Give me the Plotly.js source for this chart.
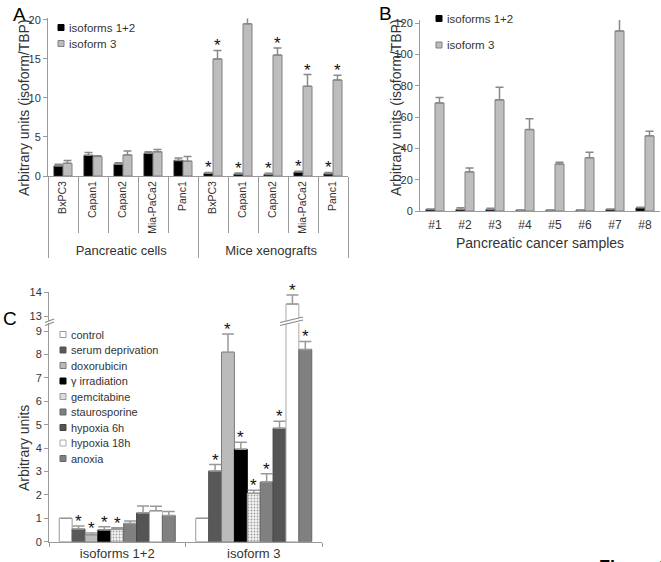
<!DOCTYPE html>
<html><head><meta charset="utf-8">
<script src="https://cdn.plot.ly/plotly-3.0.1.min.js"></script>
<style>html,body{margin:0;padding:0;background:#fff}#chart{width:661px;height:562px}</style>
</head><body><div id="chart"></div>
<script>
// ---------- Panel A data ----------
const groupsA = ['Pancreatic cells','Pancreatic cells','Pancreatic cells','Pancreatic cells','Pancreatic cells',
                 'Mice xenografts','Mice xenografts','Mice xenografts','Mice xenografts','Mice xenografts'];
const cellLinesA = ['BxPC3','Capan1','Capan2','Mia-PaCa2','Panc1','BxPC3','Capan1','Capan2','Mia-PaCa2','Panc1'];
const iso12A = [1.28, 2.65, 1.5, 2.9, 2.0, 0.35, 0.25, 0.2, 0.5, 0.3];
const iso12A_err = [0.22, 0.35, 0.2, 0.2, 0.3, 0.1, 0.12, 0.15, 0.1, 0.15];
const iso3A = [1.62, 2.5, 2.7, 3.1, 1.9, 15.0, 19.5, 15.5, 11.5, 12.3];
const iso3A_err = [0.38, 0.1, 0.5, 0.3, 0.6, 1.1, 1.4, 0.9, 1.5, 0.6];
const starA12 = [0,0,0,0,0,1,1,1,1,1];
const starA3  = [0,0,0,0,0,1,1,1,1,1];

// ---------- Panel B data ----------
const samplesB = ['#1','#2','#3','#4','#5','#6','#7','#8'];
const iso12B = [1.0, 1.0, 1.0, 0.5, 0.5, 0.5, 1.0, 2.0];
const iso12B_err = [0.3, 1.0, 0.8, 0.2, 0.2, 0.2, 0.3, 0.4];
const iso3B = [69, 25, 71, 52, 30, 34, 115, 48];
const iso3B_err = [3.5, 2.5, 8, 7, 1.2, 3.5, 10, 3];

// ---------- Panel C data ----------
const groupsC = ['isoforms 1+2', 'isoform 3'];
const treatmentsC = ['control','serum deprivation','doxorubicin','\u03b3 irradiation','gemcitabine',
                     'staurosporine','hypoxia 6h','hypoxia 18h','anoxia'];
const iso12C = [1.0, 0.54, 0.3, 0.5, 0.53, 0.78, 1.23, 1.32, 1.12];
const iso12C_err = [0, 0.13, 0.07, 0.14, 0.07, 0.1, 0.3, 0.2, 0.17];
const iso3C = [1.0, 3.02, 8.1, 3.95, 2.07, 2.55, 4.85, 13.5, 8.22];
const iso3C_err = [0, 0.28, 0.78, 0.3, 0.13, 0.35, 0.3, 0.38, 0.34];
const starC12 = [0,1,1,1,1,0,0,0,0];
const starC3  = [0,1,1,1,1,1,1,1,1];

// ---------- styles ----------
const FONT = 'Liberation Sans, Arial, sans-serif';
const W = 661, H = 562;
const fx = p => p / W, fy = p => 1 - p / H;
const AX = '#9a9a9a', TXT = '#333';
const colorsC = ['#ffffff','#585858','#bbbbbb','#000000','#eeeeee','#808080','#555555','#ffffff','#808080'];
const linesC  = ['#999999','#555555','#7a7a7a','#000000','#999999','#666666','#444444','#aaaaaa','#666666'];
const zeros = n => new Array(n).fill(0);
const C_BARGAP = 0.15;
const LOWER_TOP = 9.35;
// group labels of panel A drawn a bit larger than the cell-line labels
const groupLabelA = g => `<span style="font-size:13px">${g}</span>`;

const traces = [];
// Panel A
const xA = [groupsA.map(groupLabelA), cellLinesA];
traces.push({type:'bar', name:'isoforms 1+2', x:xA, y:iso12A, xaxis:'x', yaxis:'y',
  width:0.3, offset:-0.3, marker:{color:'#000', line:{color:'#222', width:1}},
  error_y:{type:'data', array:iso12A_err, symmetric:false, arrayminus:zeros(iso12A.length), color:'#888', thickness:1.5, width:4}});
traces.push({type:'bar', name:'isoform 3', x:xA, y:iso3A, xaxis:'x', yaxis:'y',
  width:0.3, offset:0, marker:{color:'#bdbdbd', line:{color:'#808080', width:1}},
  error_y:{type:'data', array:iso3A_err, symmetric:false, arrayminus:zeros(iso3A.length), color:'#888', thickness:1.5, width:4}});
// Panel B
traces.push({type:'bar', name:'isoforms 1+2', x:samplesB, y:iso12B, xaxis:'x2', yaxis:'y2',
  width:0.3, offset:-0.3, marker:{color:'#000', line:{color:'#222', width:1}},
  error_y:{type:'data', array:iso12B_err, symmetric:false, arrayminus:zeros(iso12B.length), color:'#888', thickness:1.5, width:4}});
traces.push({type:'bar', name:'isoform 3', x:samplesB, y:iso3B, xaxis:'x2', yaxis:'y2',
  width:0.3, offset:0, marker:{color:'#bdbdbd', line:{color:'#808080', width:1}},
  error_y:{type:'data', array:iso3B_err, symmetric:false, arrayminus:zeros(iso3B.length), color:'#888', thickness:1.5, width:4}});
// Panel C (lower and upper broken-axis parts)
['y3','y4'].forEach(ya => {
  treatmentsC.forEach((t, i) => {
    const marker = {color: colorsC[i], line:{color: linesC[i], width:1}};
    if (t === 'gemcitabine') marker.pattern = {shape:'.', fgcolor:'#a0a0a0', bgcolor:'#f4f4f4', size:3, solidity:0.3};
    traces.push({type:'bar', name:t, x:groupsC, y:[iso12C[i], iso3C[i]], xaxis:'x3', yaxis:ya,
      marker: marker,
      error_y:{type:'data', array:[iso12C_err[i], iso3C_err[i]], symmetric:false, arrayminus:[0,0],
               color:'#999', thickness:1.5, width:6}});
  });
});

// ---------- annotations ----------
const ann = [];
const starFont = {family:FONT, size:17, color:'#111'};
function star(xref, yref, x, y) {
  ann.push({xref, yref, x, y, text:'*', showarrow:false, xanchor:'center', yanchor:'bottom', yshift:-7, font:starFont});
}
cellLinesA.forEach((c, i) => {
  if (starA12[i]) star('x', 'y', i - 0.15, iso12A[i] + iso12A_err[i]);
  if (starA3[i])  star('x', 'y', i + 0.15, iso3A[i] + iso3A_err[i]);
});
const nC = treatmentsC.length, slot = (1 - C_BARGAP) / nC;
treatmentsC.forEach((t, i) => {
  const off = -(1 - C_BARGAP) / 2 + (i + 0.5) * slot;
  if (starC12[i]) { const top = iso12C[i] + iso12C_err[i]; star('x3', top > LOWER_TOP ? 'y4' : 'y3', 0 + off, top); }
  if (starC3[i])  { const top = iso3C[i] + iso3C_err[i];   star('x3', top > LOWER_TOP ? 'y4' : 'y3', 1 + off, top); }
});

function txt(x, y, text, size, extra) {
  ann.push(Object.assign({xref:'paper', yref:'paper', x:fx(x), y:fy(y), text, showarrow:false,
    xanchor:'center', yanchor:'middle', font:{family:FONT, size, color:TXT}}, extra || {}));
}
// panel letters
const letterFont = {family:FONT, size:19, color:'#000'};
txt(19, 2, 'A', 19, {yanchor:'top', font:letterFont});
txt(385, 0.5, 'B', 19, {yanchor:'top', font:letterFont});
txt(10, 318, 'C', 19, {font:letterFont});
// axis titles
txt(24, 108, 'Arbitrary units (isoform/TBP)', 14, {textangle:-90});
txt(396, 108, 'Arbitrary units (isoform/TBP)', 14, {textangle:-90});
txt(24, 448, 'Arbitrary units', 14, {textangle:-90});
txt(540, 243, 'Pancreatic cancer samples', 14);
// Figure label (cut at the bottom edge)
ann.push({xref:'paper', yref:'paper', x:fx(597), y:fy(555), xanchor:'left', yanchor:'top', text:'<b>Figure 3</b>',
  showarrow:false, font:{family:FONT, size:18, color:'#000'}});

// legends (swatch shapes + labels)
const shapes = [];
function legendItem(xs, y, label, fill, line, size) {
  shapes.push({type:'rect', xref:'paper', yref:'paper', x0:fx(xs), x1:fx(xs + 6), y0:fy(y + 3), y1:fy(y - 3),
    fillcolor:fill, line:{color:line, width:1}});
  ann.push({xref:'paper', yref:'paper', x:fx(xs + 9), y:fy(y), xanchor:'left', yanchor:'middle', text:label,
    showarrow:false, font:{family:FONT, size:size, color:TXT}});
}
legendItem(58, 27.5, 'isoforms 1+2', '#000', '#000', 11.5);
legendItem(58, 43.5, 'isoform 3', '#bdbdbd', '#808080', 11.5);
legendItem(436, 18.5, 'isoforms 1+2', '#000', '#000', 11.5);
legendItem(436, 45, 'isoform 3', '#bdbdbd', '#808080', 11.5);
treatmentsC.forEach((t, i) => legendItem(60, 334.5 + i * 15.5, t, t === 'gemcitabine' ? '#dcdcdc' : colorsC[i], linesC[i], 11));

// broken axis marks
const brk = {color:'#888', width:1.2};
shapes.push({type:'line', xref:'paper', yref:'paper', x0:fx(45), y0:fy(322.5), x1:fx(54), y1:fy(319), line:brk});
shapes.push({type:'line', xref:'paper', yref:'paper', x0:fx(45), y0:fy(325.5), x1:fx(54), y1:fy(322), line:brk});
shapes.push({type:'path', xref:'paper', yref:'paper',
  path:`M${fx(280)},${fy(322.5)} L${fx(303)},${fy(317)} L${fx(303)},${fy(320)} L${fx(280)},${fy(325.5)} Z`,
  fillcolor:'#fff', line:{width:0}});
shapes.push({type:'line', xref:'paper', yref:'paper', x0:fx(280), y0:fy(322.5), x1:fx(303), y1:fy(317), line:brk});
shapes.push({type:'line', xref:'paper', yref:'paper', x0:fx(280), y0:fy(325.5), x1:fx(303), y1:fy(320), line:brk});

const yBase = {showgrid:false, zeroline:false, showline:true, linecolor:AX, linewidth:1, ticks:'outside', ticklen:4,
  tickcolor:AX, tickfont:{family:FONT, size:11, color:TXT}};
const layout = {
  width:W, height:H, margin:{l:0, r:0, t:0, b:0}, paper_bgcolor:'#fff', plot_bgcolor:'rgba(0,0,0,0)',
  showlegend:false, barmode:'group', bargap:C_BARGAP, bargroupgap:0,
  font:{family:FONT, size:11, color:TXT},
  xaxis:{domain:[fx(48), fx(348)], anchor:'y', type:'multicategory', showline:true, linecolor:AX,
    ticks:'outside', ticklen:56, tickcolor:AX, tickangle:-90, showdividers:true, dividercolor:AX, dividerwidth:1,
    tickfont:{family:FONT, size:10.5, color:TXT}, showgrid:false, zeroline:false},
  yaxis:Object.assign({}, yBase, {domain:[fy(176), fy(18.4)], anchor:'x', range:[0, 20.2], tickvals:[0,5,10,15,20]}),
  xaxis2:{domain:[fx(420), fx(660)], anchor:'y2', type:'category', showline:true, linecolor:AX, ticks:'',
    ticklabelstandoff:3,
    tickfont:{family:FONT, size:12, color:TXT}, showgrid:false, zeroline:false},
  yaxis2:Object.assign({}, yBase, {domain:[fy(211), fy(20)], anchor:'x2', range:[0, 122], tickvals:[0,20,40,60,80,100,120]}),
  xaxis3:{domain:[fx(49), fx(322)], anchor:'y3', type:'category', showline:true, linecolor:AX, ticks:'outside',
    tickson:'boundaries', ticklen:4, tickcolor:AX, tickfont:{family:FONT, size:13, color:TXT}, showgrid:false, zeroline:false},
  yaxis3:Object.assign({}, yBase, {domain:[fy(541.7), fy(323)], anchor:'x3', range:[0, LOWER_TOP], dtick:1}),
  yaxis4:Object.assign({}, yBase, {domain:[fy(321), fy(292)], anchor:'x3', range:[12.8, 14], tickvals:[13,14]}),
  annotations:ann, shapes:shapes
};
Plotly.newPlot('chart', traces, layout, {staticPlot:true, displayModeBar:false});
</script></body></html>
